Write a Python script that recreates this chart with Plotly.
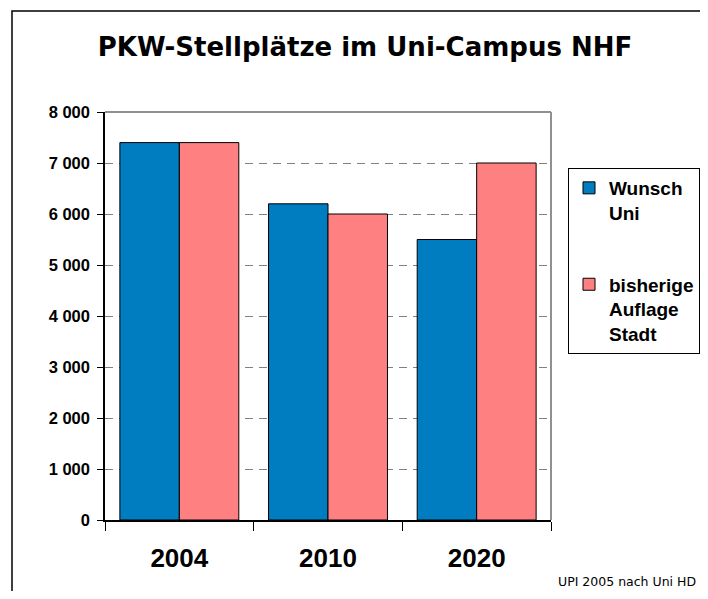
import plotly.graph_objects as go

categories = ["2004", "2010", "2020"]
wunsch_uni = [7400, 6200, 5500]
auflage_stadt = [7400, 6000, 7000]
series_names = ["Wunsch<br>Uni", "bisherige<br>Auflage<br>Stadt"]
y_ticks = [0, 1000, 2000, 3000, 4000, 5000, 6000, 7000, 8000]

# page body has an 8px margin: work in window pixels and shift by OFF
OFF = 8
W, H = 708 - OFF, 599 - 2 * OFF
L, R, T, B = 105, 551, 112, 520  # plot area in window pixels


def px_x(x):
    return (x - L) / (R - L)


def px_y(y):
    return (B - y) / (B - T)


fig = go.Figure()
fig.add_trace(go.Bar(
    x=categories, y=wunsch_uni, name=series_names[0], legendgroup="a",
    marker=dict(color="#007CC0", line=dict(color="black", width=1)),
))
fig.add_trace(go.Bar(
    x=categories, y=auflage_stadt, name=series_names[1], legendgroup="b",
    marker=dict(color="#FF8080", line=dict(color="black", width=1)),
))

fig.update_layout(
    width=W, height=H,
    margin=dict(l=L - OFF, r=OFF + W - R, t=T - OFF, b=OFF + H - B, autoexpand=False),
    paper_bgcolor="white", plot_bgcolor="white",
    barmode="group", bargap=0.2, bargroupgap=0,
    separators=". ",
    font=dict(family="Liberation Sans, Arial, sans-serif", color="black"),
    title=dict(
        text="<b>PKW-Stellplätze im Uni-Campus NHF</b>",
        font=dict(family="DejaVu Sans", size=26, color="black"),
        xref="container", yref="container",
        x=(365 - OFF) / W, xanchor="center", y=1 - (47 - OFF) / H, yanchor="middle",
    ),
    legend=dict(
        x=px_x(568), xanchor="left", y=px_y(168), yanchor="top",
        bordercolor="black", borderwidth=1, bgcolor="white",
        font=dict(family="Liberation Sans, Arial", size=19, color="black", weight="bold"),
        tracegroupgap=44, valign="top", traceorder="grouped",
    ),
    showlegend=True,
)

fig.update_yaxes(
    range=[0, 8000], tickvals=y_ticks, tickformat=",d",
    showline=True, linecolor="black", linewidth=1.5,
    ticks="outside", ticklen=6, tickcolor="black", tickwidth=1,
    showgrid=True, gridcolor="#808080", gridwidth=1, griddash="8px,6px",
    tickfont=dict(family="Liberation Sans, Arial", size=16.5, color="black", weight="bold"),
    ticklabelstandoff=4, zeroline=False,
)
fig.update_xaxes(
    type="category", tickson="boundaries",
    showline=True, linecolor="black", linewidth=1.5,
    ticks="outside", ticklen=9, tickcolor="black", tickwidth=1,
    showgrid=False,
    tickfont=dict(family="Liberation Sans, Arial", size=26, color="black", weight="bold"),
    ticklabelstandoff=14,
)

# gray top and right border of plot area
fig.add_shape(type="line", xref="paper", yref="paper", x0=0, x1=1, y0=1, y1=1,
              line=dict(color="#909090", width=2))
fig.add_shape(type="line", xref="paper", yref="paper", x0=1, x1=1, y0=0, y1=1,
              line=dict(color="#909090", width=2))
# outer frame
fig.add_shape(type="rect", xref="paper", yref="paper",
              x0=px_x(12), x1=px_x(760), y0=px_y(650), y1=px_y(11),
              line=dict(color="black", width=1.5), fillcolor="rgba(0,0,0,0)", layer="below")

fig.add_annotation(
    text="UPI 2005 nach Uni HD", xref="paper", yref="paper",
    x=px_x(698), xanchor="right", y=px_y(581), yanchor="middle",
    showarrow=False, font=dict(family="DejaVu Sans", size=12.5, color="black"),
)

fig.write_html("out.html")
